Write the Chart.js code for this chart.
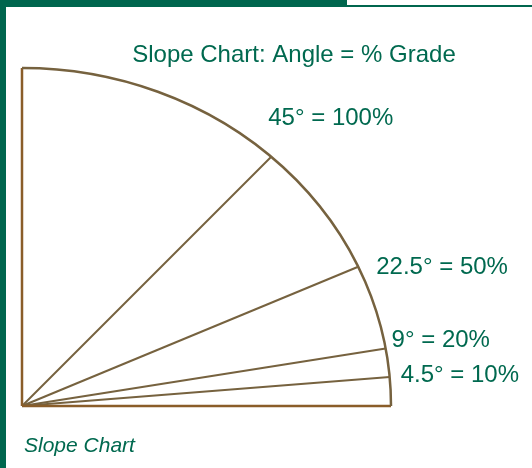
<!DOCTYPE html>
<html>
<head>
<meta charset="utf-8">
<script src="https://cdn.jsdelivr.net/npm/chart.js@4/dist/chart.umd.min.js"></script>
<style>
  body { margin: 0; background: #fff; }
  #wrap { position: relative; width: 532px; height: 468px; overflow: hidden; }
  #slope { position: absolute; left: 0; top: 0; }
  .bar { position: absolute; background: #00664e; }
</style>
</head>
<body>
<div id="wrap">
  <canvas id="slope" width="532" height="468"></canvas>
  <div class="bar" style="left:0;top:0;width:347px;height:7px"></div>
  <div class="bar" style="left:347px;top:5px;width:185px;height:2px"></div>
  <div class="bar" style="left:0;top:0;width:6px;height:468px"></div>
</div>
<script>
// slope angles in degrees and the grade each one is labelled with
const angles = [45, 22.5, 9, 4.5];
const grades = [100, 50, 20, 10];
const titleText = 'Slope Chart: Angle = % Grade';
const captionText = 'Slope Chart';

// the arc is a little flatter than a circle (height / width)
const arcHeight = 0.916;

// label nudges from the end of each line, in pixels
const labelOffsets = [[-3, -32], [18, 7], [6, -1], [11, 5]];

const green = '#00694f';
const rayColor = '#76623f';
const edgeColor = '#8a5d29';

// point on the arc for an angle (same units on both axes)
function arcPoint(deg) {
  const t = deg * Math.PI / 180;
  const c = Math.cos(t), s = Math.sin(t);
  const r = 1 / Math.sqrt(c * c + (s * s) / (arcHeight * arcHeight));
  return { x: r * c, y: r * s };
}

const rayDatasets = angles.map(a => ({
  data: [{ x: 0, y: 0 }, arcPoint(a)],
  showLine: true,
  borderColor: rayColor,
  borderWidth: 2,
  pointRadius: 0,
  clip: false,
  order: 2
}));

// left and bottom edges of the quarter
const edgeDatasets = [
  { data: [{ x: 0, y: 0 }, { x: 0, y: arcHeight }] },
  { data: [{ x: 0, y: 0 }, { x: 1, y: 0 }] }
].map(d => Object.assign(d, {
  showLine: true,
  borderColor: edgeColor,
  borderWidth: 2.5,
  pointRadius: 0,
  clip: false,
  order: 1
}));

const arcPlugin = {
  id: 'arc',
  afterDatasetsDraw(chart) {
    const ctx = chart.ctx;
    const xs = chart.scales.x, ys = chart.scales.y;
    const cx = xs.getPixelForValue(0), cy = ys.getPixelForValue(0);
    const rx = xs.getPixelForValue(1) - cx;
    const ry = cy - ys.getPixelForValue(arcHeight);
    ctx.save();
    ctx.strokeStyle = rayColor;
    ctx.lineWidth = 2.5;
    ctx.beginPath();
    ctx.ellipse(cx, cy, rx, ry, 0, -Math.PI / 2, 0);
    ctx.stroke();

    // labels at the end of each line
    ctx.fillStyle = green;
    ctx.font = '24px "Liberation Sans", Arial, sans-serif';
    ctx.textBaseline = 'alphabetic';
    ctx.textAlign = 'left';
    angles.forEach((a, i) => {
      const p = arcPoint(a);
      const px = xs.getPixelForValue(p.x) + labelOffsets[i][0];
      const py = ys.getPixelForValue(p.y) + labelOffsets[i][1];
      ctx.fillText(a + '\u00B0 = ' + grades[i] + '%', px, py);
    });

    // title and caption
    ctx.textAlign = 'center';
    ctx.fillText(titleText, 294, 62);
    ctx.textAlign = 'left';
    ctx.font = 'italic 21px "Liberation Sans", Arial, sans-serif';
    ctx.fillText(captionText, 24, 452);
    ctx.restore();
  }
};

new Chart(document.getElementById('slope'), {
  type: 'scatter',
  data: { datasets: rayDatasets.concat(edgeDatasets) },
  options: {
    responsive: false,
    animation: false,
    layout: { padding: { left: 22, right: 141, top: 68, bottom: 62 } },
    scales: {
      x: { type: 'linear', min: 0, max: 1, display: false },
      y: { type: 'linear', min: 0, max: arcHeight, display: false }
    },
    plugins: {
      legend: { display: false },
      tooltip: { enabled: false }
    }
  },
  plugins: [arcPlugin]
});
</script>
</body>
</html>
